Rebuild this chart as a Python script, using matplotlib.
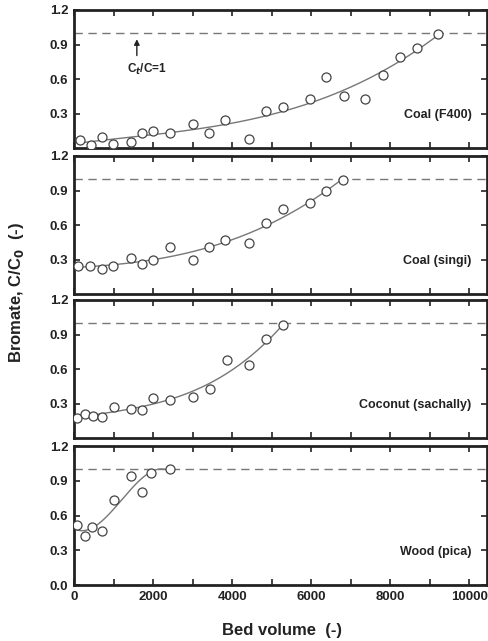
import numpy as np
import matplotlib
matplotlib.use("Agg")
import matplotlib.pyplot as plt
from matplotlib.ticker import MultipleLocator

plt.rcParams["font.family"] = ["Liberation Sans", "DejaVu Sans"]
plt.rcParams["font.weight"] = "bold"

# Coal (F400)
bv_f400 = [150, 420, 700, 980, 1440, 1710, 2000, 2420, 3010, 3420, 3830, 4420,
           4870, 5290, 5960, 6380, 6820, 7370, 7810, 8250, 8670, 9200]
c_f400 = [0.07, 0.03, 0.10, 0.035, 0.05, 0.13, 0.15, 0.13, 0.21, 0.13, 0.24, 0.08,
          0.32, 0.36, 0.43, 0.62, 0.455, 0.43, 0.635, 0.79, 0.87, 0.99]

# Coal (singi)
bv_singi = [110, 400, 700, 990, 1430, 1710, 2000, 2420, 3000, 3420, 3830, 4430,
            4870, 5290, 5960, 6380, 6800]
c_singi = [0.24, 0.24, 0.22, 0.24, 0.31, 0.26, 0.30, 0.41, 0.295, 0.405, 0.47, 0.445,
           0.615, 0.735, 0.79, 0.90, 0.99]

# Coconut (sachally)
bv_coco = [85, 280, 490, 715, 1010, 1440, 1725, 2000, 2440, 3000, 3430, 3870,
           4430, 4870, 5290]
c_coco = [0.17, 0.21, 0.19, 0.18, 0.27, 0.25, 0.24, 0.35, 0.33, 0.36, 0.43, 0.68,
          0.635, 0.86, 0.98]

# Wood (pica)
bv_wood = [70, 280, 450, 700, 1010, 1440, 1710, 1960, 2440]
c_wood = [0.52, 0.42, 0.50, 0.47, 0.73, 0.94, 0.805, 0.965, 1.0]

panels = [
    (bv_f400, c_f400, "Coal (F400)"),
    (bv_singi, c_singi, "Coal (singi)"),
    (bv_coco, c_coco, "Coconut (sachally)"),
    (bv_wood, c_wood, "Wood (pica)"),
]

W, H = 489, 641
fig = plt.figure(figsize=(W / 100, H / 100), dpi=100)

# panel top/bottom in pixels from top
rows = [(10, 148), (156, 294), (300, 438), (446, 585)]
left, right = 74, 487

axes = []
for i, ((x, y, name), (top, bot)) in enumerate(zip(panels, rows)):
    ax = fig.add_axes([left / W, 1 - bot / H, (right - left) / W, (bot - top) / H])
    axes.append(ax)

    ax.axhline(1.0, color="#777777", lw=1.0, dashes=(6, 4), zorder=1)

    # trend curve fitted to the points
    coef = np.polyfit(x, y, 3)
    xs = np.linspace(min(x), max(x), 200)
    ax.plot(xs, np.polyval(coef, xs), color="#777777", lw=1.0, zorder=2)

    ax.plot(x, y, "o", ms=6.5, mfc="white", mec="#444444", mew=0.9, zorder=3)

    ax.set_xlim(0, 10450)
    ax.set_ylim(0, 1.2)
    ax.xaxis.set_major_locator(MultipleLocator(2000))
    ax.xaxis.set_minor_locator(MultipleLocator(1000))
    if i < 3:
        ax.set_yticks([0.3, 0.6, 0.9, 1.2])
        ax.tick_params(labelbottom=False)
    else:
        ax.set_yticks([0.0, 0.3, 0.6, 0.9, 1.2])
    ax.yaxis.set_major_formatter(plt.FuncFormatter(lambda v, p: f"{v:.1f}"))
    ax.tick_params(which="both", direction="in", top=True, right=True,
                   labelsize=9.5, width=1.2, colors="#222222", pad=4)
    ax.tick_params(which="major", length=4)
    ax.tick_params(which="minor", length=4)
    for s in ax.spines.values():
        s.set_linewidth(2.0)
        s.set_color("#222222")

    ax.text(0.963, 0.24, name, transform=ax.transAxes, ha="right", va="center",
            fontsize=9, fontweight="bold", color="#222222")

axes[0].annotate("", xy=(1590, 0.97), xytext=(1590, 0.78),
                 arrowprops=dict(arrowstyle="-|>", color="#222222", lw=1.0,
                                 mutation_scale=8))
axes[0].text(1850, 0.68, "C$_t$/C=1", ha="center", va="center", fontsize=8.5,
             fontweight="bold", color="#222222")

fig.text(17 / W, 1 - 292 / H, "Bromate, C/C$_0$  (-)", rotation=90, ha="center",
         va="center", fontsize=12, fontweight="bold", color="#222222")
fig.text(282 / W, 1 - 630 / H, "Bed volume  (-)", ha="center",
         va="center", fontsize=12, fontweight="bold", color="#222222")

fig.savefig("out.png", dpi=100)
